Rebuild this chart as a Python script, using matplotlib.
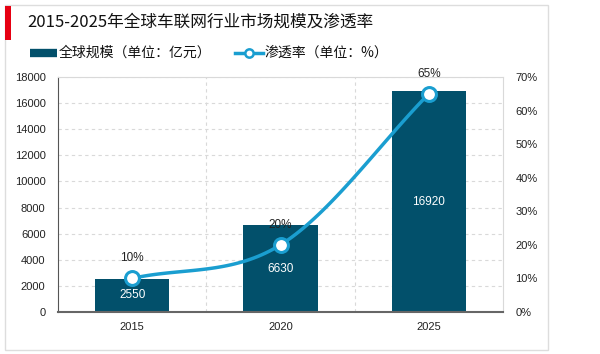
import numpy as np
import matplotlib.pyplot as plt
from matplotlib.patches import Rectangle
from matplotlib.lines import Line2D

plt.rcParams['font.family'] = ['Noto Sans CJK SC', 'DejaVu Sans']

# ----------------------------
# Data
# ----------------------------
years = ["2015", "2020", "2025"]
market_size = [2550, 6630, 16920]      # 亿元
penetration = [10, 20, 65]             # %

title = "2015-2025年全球车联网行业市场规模及渗透率"
bar_label = "全球规模（单位：亿元）"
line_label = "渗透率（单位：%）"

bar_color = "#02506b"
line_color = "#1a9ed0"
num_font = ["Liberation Sans", "DejaVu Sans"]

W, H = 600, 354
fig = plt.figure(figsize=(6, 3.54), dpi=100)

def fx(px):
    return px / W

def fy(py):
    return 1 - py / H

# outer frame and red mark
fig.patches.append(Rectangle((fx(5), fy(350)), 543 / W, 345 / H, transform=fig.transFigure,
                             fill=False, edgecolor="#dddddd", linewidth=1))
fig.patches.append(Rectangle((fx(5), fy(40)), 6 / W, 34 / H, transform=fig.transFigure,
                             facecolor="#e60012", edgecolor="none"))
fig.text(fx(27), fy(22), title, fontsize=12, va="center", ha="left", color="#111111")

# ----------------------------
# Bars
# ----------------------------
ax = fig.add_axes([fx(58), fy(312), 445 / W, 235 / H])
x = np.arange(len(years))
ax.bar(x, market_size, width=0.5, color=bar_color, zorder=2)
ax.set_xlim(-0.5, 2.5)
ax.set_ylim(0, 18000)
ax.set_yticks(range(0, 18001, 2000))
ax.set_xticks(x)
ax.set_xticklabels(years, family=num_font)
ax.set_yticklabels([str(t) for t in range(0, 18001, 2000)], family=num_font)
ax.tick_params(axis="both", length=0, labelsize=8, colors="#222222")
ax.tick_params(axis="y", pad=9)
ax.tick_params(axis="x", pad=7)
ax.grid(axis="y", linestyle=(0, (3, 3)), color="#d9d9d9", linewidth=0.8, zorder=0)
for b in [0.5, 1.5]:
    ax.axvline(b, linestyle=(0, (3, 3)), color="#d9d9d9", linewidth=0.8, zorder=0)
for s in ["top", "right"]:
    ax.spines[s].set_color("#d9d9d9")
ax.spines["left"].set_color("#555555")
ax.spines["bottom"].set_color("#666666")
ax.spines["bottom"].set_linewidth(1.5)

for xi, v in zip(x, market_size):
    ax.text(xi, v / 2, str(v), ha="center", va="center", color="white", fontsize=8.5,
            family=num_font, zorder=5)

# ----------------------------
# Penetration line
# ----------------------------
ax2 = ax.twinx()
ax2.set_ylim(0, 70)
ax2.set_yticks(range(0, 71, 10))
ax2.set_yticklabels([f"{t}%" for t in range(0, 71, 10)], family=num_font)
ax2.tick_params(axis="y", length=0, labelsize=8, colors="#222222", pad=9)
for s in ax2.spines.values():
    s.set_visible(False)

# smooth curve through the points (Catmull-Rom)
px = np.array(x, dtype=float)
py = np.array(penetration, dtype=float)
P = np.vstack([np.r_[2 * px[0] - px[1], px, 2 * px[-1] - px[-2]],
               np.r_[2 * py[0] - py[1], py, 2 * py[-1] - py[-2]]]).T
cx, cy = [], []
t = np.linspace(0, 1, 40)[:, None]
for i in range(1, len(P) - 2):
    p0, p1, p2, p3 = P[i - 1], P[i], P[i + 1], P[i + 2]
    seg = 0.5 * (2 * p1 + (-p0 + p2) * t
                 + (2 * p0 - 5 * p1 + 4 * p2 - p3) * t ** 2
                 + (-p0 + 3 * p1 - 3 * p2 + p3) * t ** 3)
    cx.extend(seg[:, 0]); cy.extend(seg[:, 1])
ax2.plot(cx, cy, color=line_color, linewidth=2.5, zorder=3)
ax2.plot(px, py, "o", markersize=10, markerfacecolor="white", markeredgecolor=line_color,
         markeredgewidth=2.2, zorder=4)
for xi, v in zip(px, py):
    ax2.text(xi, v + 6, f"{v:.0f}%", ha="center", va="center", color="#222222", fontsize=8.5,
             family=num_font, zorder=5)

# ----------------------------
# Legend (drawn by hand in figure coords)
# ----------------------------
fig.lines.append(Line2D([fx(30), fx(57)], [fy(53), fy(53)], transform=fig.transFigure,
                        color=bar_color, linewidth=6, solid_capstyle="butt"))
fig.text(fx(59), fy(53), bar_label, fontsize=10, va="center", ha="left", color="#111111")
fig.lines.append(Line2D([fx(235), fx(263)], [fy(53), fy(53)], transform=fig.transFigure,
                        color=line_color, linewidth=2.5))
fig.lines.append(Line2D([fx(249)], [fy(53)], transform=fig.transFigure, marker="o",
                        markersize=6, markerfacecolor="white", markeredgecolor=line_color,
                        markeredgewidth=1.8))
fig.text(fx(265), fy(53), line_label, fontsize=10, va="center", ha="left", color="#111111")

fig.savefig("out.png", dpi=100)
